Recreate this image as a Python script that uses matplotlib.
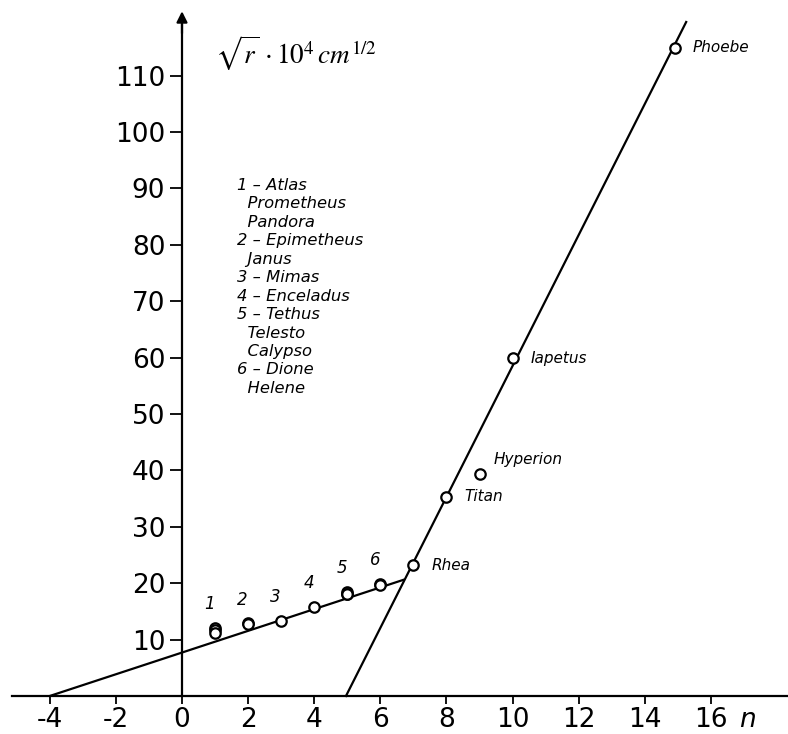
import matplotlib
matplotlib.use('Agg')
import matplotlib.pyplot as plt

# inner group (numbered) moons: orbit number n and sqrt(r)*1e-4, cm^1/2
inner_n = [1, 1, 1, 2, 2, 3, 4, 5, 5, 5, 6, 6]
inner_val = [12.1, 11.7, 11.2, 12.9, 12.7, 13.3, 15.8, 18.5, 18.0, 18.0, 19.9, 19.7]
group_n = [1, 2, 3, 4, 5, 6]
group_top = [12.1, 12.9, 13.3, 15.8, 18.5, 19.9]

# outer moons
outer_names = ['Rhea', 'Titan', 'Hyperion', 'Iapetus', 'Phoebe']
outer_n = [7, 8, 9, 10, 14.9]
outer_val = [23.2, 35.3, 39.4, 59.9, 114.9]

# the two straight lines
line1_n = [-4, 6.7]
line1_val = [0, 20.6]
line2_n = [4.96, 15.25]
line2_val = [0, 119.5]

legend_lines = ['1 \u2013 Atlas', '  Prometheus', '  Pandora',
                '2 \u2013 Epimetheus', '  Janus', '3 \u2013 Mimas',
                '4 \u2013 Enceladus', '5 \u2013 Tethus', '  Telesto',
                '  Calypso', '6 \u2013 Dione', '  Helene']

xticks = [-4, -2, 0, 2, 4, 6, 8, 10, 12, 14, 16]
yticks = [10, 20, 30, 40, 50, 60, 70, 80, 90, 100, 110]

fig = plt.figure(figsize=(7.88, 7.34), dpi=100)
ax = fig.add_axes([0, 0, 1, 1])
ax.set_xlim(-5.505, 18.33)
ax.set_ylim(-6.74, 123.4)

# axes through the origin
for s in ['top', 'right']:
    ax.spines[s].set_visible(False)
ax.spines['left'].set_position(('data', 0))
ax.spines['bottom'].set_position(('data', 0))
ax.spines['left'].set_bounds(0, 119)
ax.spines['bottom'].set_bounds(-5.14, 18.4)
ax.spines['left'].set_linewidth(1.6)
ax.spines['bottom'].set_linewidth(1.6)
ax.annotate('', xy=(0, 121.9), xytext=(0, 117),
            arrowprops=dict(arrowstyle='-|>', color='black', lw=1.6,
                            mutation_scale=16))

ax.set_xticks(xticks)
ax.set_xticklabels([str(t) for t in xticks])
ax.set_yticks(yticks)
ax.set_yticklabels([str(t) for t in yticks])
ax.tick_params(axis='x', direction='out', length=6, width=1.3, labelsize=19, pad=2)
ax.tick_params(axis='y', direction='out', length=9, width=1.3, labelsize=19, pad=3)

ax.text(17.1, -4.3, 'n', fontsize=19, style='italic', ha='center', va='center')

# lines
ax.plot(line1_n, line1_val, color='black', lw=1.6)
ax.plot(line2_n, line2_val, color='black', lw=1.6)

# points
ax.plot(inner_n, inner_val, 'o', ms=7.5, mfc='white', mec='black', mew=1.6, ls='none')
ax.plot(outer_n, outer_val, 'o', ms=7.5, mfc='white', mec='black', mew=1.6, ls='none')

for n, v in zip(group_n, group_top):
    ax.annotate(str(n), (n, v), xytext=(-4, 17), textcoords='offset points',
                ha='center', va='center', fontsize=12, style='italic')

for name, n, v in zip(outer_names, outer_n, outer_val):
    dx, dy = (10, 10) if name == 'Hyperion' else (13, 0)
    ax.annotate(name, (n, v), xytext=(dx, dy), textcoords='offset points',
                ha='left', va='center', fontsize=11, style='italic')

ax.text(1.65, 91.9, '\n'.join(legend_lines), fontsize=11.8, style='italic',
        ha='left', va='top', linespacing=1.29)

ax.text(1.0, 114.0, r'$\sqrt{r}\,\cdot 10^4\,cm^{1/2}$', fontsize=19.5,
        ha='left', va='center', math_fontfamily='stix')

fig.savefig('out.png', dpi=100)
